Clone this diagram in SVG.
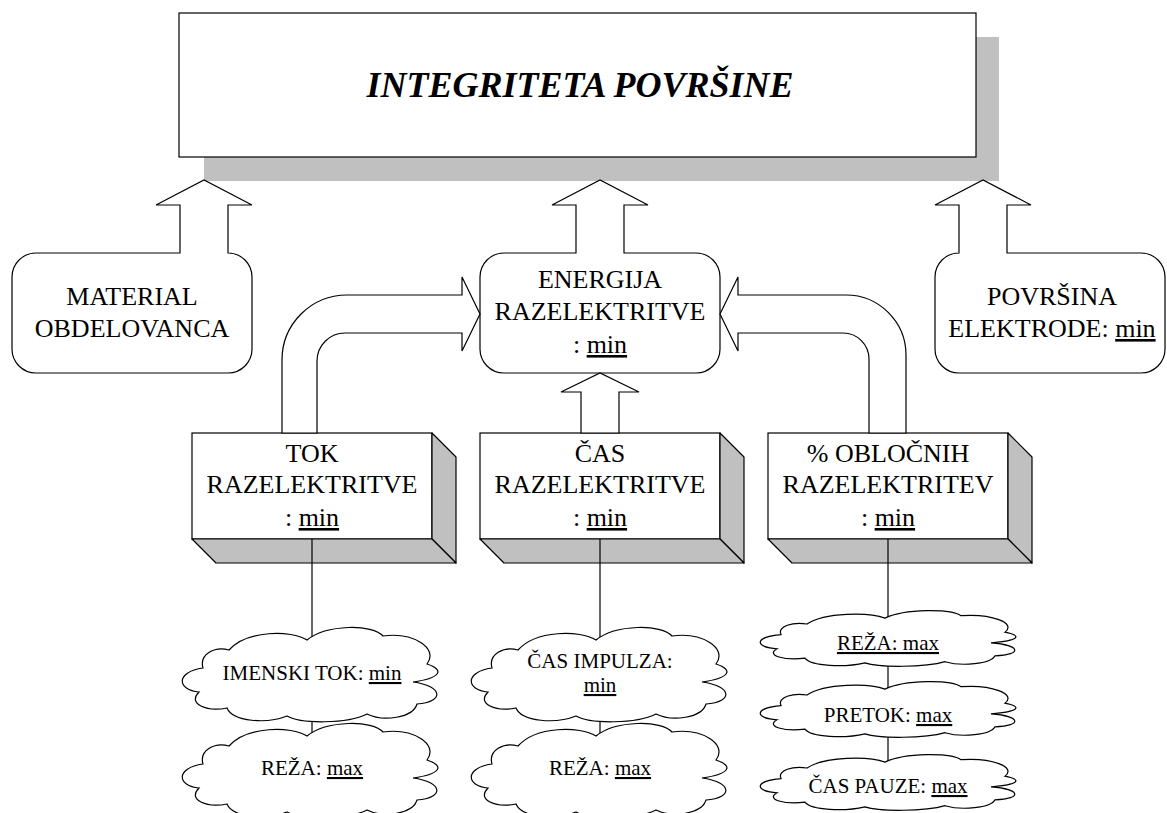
<svg xmlns="http://www.w3.org/2000/svg" width="1167" height="813" viewBox="0 0 1167 813">
<style>
.ln{fill:#fff;stroke:#000;stroke-width:1.2}
.sh{fill:#c0c0c0;stroke:#000;stroke-width:1.2;stroke-linejoin:round}
.cn{fill:none;stroke:#000;stroke-width:1.2}
.u{text-decoration:underline}
.cl{fill:#fff;stroke:#000;stroke-width:1.2}
</style>
<rect width="1167" height="813" fill="#fff"/>

<g id="title">
<rect x="204" y="37" width="795" height="144" fill="#c0c0c0"/>
<rect x="179" y="13" width="797" height="144" class="ln"/>
<text x="580" y="97" style="font-family:'Liberation Serif',Tinos,'Times New Roman',serif;font-size:36px;font-weight:bold;font-style:italic;text-anchor:middle">INTEGRITETA POVRŠINE</text>
</g>

<g id="material">
<path class="ln" d="M36,253 H180 V205 H156 L204,180 L252,205 H228 V253 A24,24 0 0 1 252,277 V349 A24,24 0 0 1 228,373 H36 A24,24 0 0 1 12,349 V277 A24,24 0 0 1 36,253 Z"/>
<text x="132" y="305" style="font-family:'Liberation Serif',Tinos,'Times New Roman',serif;font-size:26px;text-anchor:middle">MATERIAL</text>
<text x="132" y="337" style="font-family:'Liberation Serif',Tinos,'Times New Roman',serif;font-size:26px;text-anchor:middle">OBDELOVANCA</text>
</g>

<g id="energija">
<path class="ln" d="M504,253 H576 V205 H552 L600,180 L648,205 H624 V253 H696 A24,24 0 0 1 720,277 V349 A24,24 0 0 1 696,373 H504 A24,24 0 0 1 480,349 V277 A24,24 0 0 1 504,253 Z"/>
<text x="600" y="288" style="font-family:'Liberation Serif',Tinos,'Times New Roman',serif;font-size:26px;text-anchor:middle">ENERGIJA</text>
<text x="600" y="320" style="font-family:'Liberation Serif',Tinos,'Times New Roman',serif;font-size:26px;text-anchor:middle">RAZELEKTRITVE</text>
<text x="600" y="353" style="font-family:'Liberation Serif',Tinos,'Times New Roman',serif;font-size:26px;text-anchor:middle">: <tspan class="u">min</tspan></text>
</g>

<g id="povrsina">
<path class="ln" d="M959,253 V205 H935 L983,180 L1031,205 H1007 V253 H1141 A24,24 0 0 1 1165,277 V349 A24,24 0 0 1 1141,373 H959 A24,24 0 0 1 935,349 V277 A24,24 0 0 1 959,253 Z"/>
<text x="1052" y="305" style="font-family:'Liberation Serif',Tinos,'Times New Roman',serif;font-size:26px;text-anchor:middle">POVRŠINA</text>
<text x="1052" y="337" style="font-family:'Liberation Serif',Tinos,'Times New Roman',serif;font-size:26px;text-anchor:middle">ELEKTRODE: <tspan class="u">min</tspan></text>
</g>

<g id="tok">
<rect x="192" y="433" width="240" height="106" class="ln"/>
<path class="sh" d="M432,433 L456,457 V563 L432,539 Z"/>
<path class="sh" d="M192,539 H432 L456,563 H216 Z"/>
<text x="312" y="462" style="font-family:'Liberation Serif',Tinos,'Times New Roman',serif;font-size:26px;text-anchor:middle">TOK</text>
<text x="312" y="493" style="font-family:'Liberation Serif',Tinos,'Times New Roman',serif;font-size:26px;text-anchor:middle">RAZELEKTRITVE</text>
<text x="312" y="526" style="font-family:'Liberation Serif',Tinos,'Times New Roman',serif;font-size:26px;text-anchor:middle">: <tspan class="u">min</tspan></text>
</g>

<g id="cas">
<rect x="480" y="433" width="240" height="106" class="ln"/>
<path class="sh" d="M720,433 L744,457 V563 L720,539 Z"/>
<path class="sh" d="M480,539 H720 L744,563 H504 Z"/>
<text x="600" y="462" style="font-family:'Liberation Serif',Tinos,'Times New Roman',serif;font-size:26px;text-anchor:middle">ČAS</text>
<text x="600" y="493" style="font-family:'Liberation Serif',Tinos,'Times New Roman',serif;font-size:26px;text-anchor:middle">RAZELEKTRITVE</text>
<text x="600" y="526" style="font-family:'Liberation Serif',Tinos,'Times New Roman',serif;font-size:26px;text-anchor:middle">: <tspan class="u">min</tspan></text>
</g>

<g id="oblocni">
<rect x="768" y="433" width="240" height="106" class="ln"/>
<path class="sh" d="M1008,433 L1032,457 V563 L1008,539 Z"/>
<path class="sh" d="M768,539 H1008 L1032,563 H792 Z"/>
<text x="888" y="462" style="font-family:'Liberation Serif',Tinos,'Times New Roman',serif;font-size:26px;text-anchor:middle">% OBLOČNIH</text>
<text x="888" y="493" style="font-family:'Liberation Serif',Tinos,'Times New Roman',serif;font-size:26px;text-anchor:middle">RAZELEKTRITEV</text>
<text x="888" y="526" style="font-family:'Liberation Serif',Tinos,'Times New Roman',serif;font-size:26px;text-anchor:middle">: <tspan class="u">min</tspan></text>
</g>

<g id="connectors">
<path class="ln" d="M282,433 V360 A65,65 0 0 1 347,295 H462 V277 L480,314 L462,351 V333 H345 A28,28 0 0 0 317,361 V433 Z"/>
<path class="ln" d="M906,433 V355 A60,60 0 0 0 846,295 H738 V277 L720,314 L738,351 V333 H843 A26,26 0 0 1 869,359 V433 Z"/>
<path class="ln" d="M581,433 V392 H561 L600,373 L639,392 H619 V433 Z"/>
<line class="cn" x1="312" y1="539" x2="312" y2="760"/>
<line class="cn" x1="600" y1="539" x2="600" y2="760"/>
<line class="cn" x1="888" y1="539" x2="888" y2="785"/>
</g>

<g id="cloud-imenski">
<path class="cl" transform="translate(177,628)" d="M22,64 C0,62 -2,44 26,40 C22,26 38,18 52,22 C70,2 114,2 130,12 C150,-4 196,-4 206,8 C236,4 262,20 250,36 C268,42 264,50 236,54 C266,58 268,74 240,76 C236,90 206,94 190,86 C170,96 124,96 110,88 C90,96 56,94 50,80 C30,84 10,76 22,64 Z"/>
<text x="312" y="680" style="font-family:'Liberation Serif',Tinos,'Times New Roman',serif;font-size:21px;text-anchor:middle">IMENSKI TOK: <tspan class="u">min</tspan></text>
</g>
<g id="cloud-reza1">
<path class="cl" transform="translate(177,724)" d="M22,64 C0,62 -2,44 26,40 C22,26 38,18 52,22 C70,2 114,2 130,12 C150,-4 196,-4 206,8 C236,4 262,20 250,36 C268,42 264,50 236,54 C266,58 268,74 240,76 C236,90 206,94 190,86 C170,96 124,96 110,88 C90,96 56,94 50,80 C30,84 10,76 22,64 Z"/>
<text x="312" y="775" style="font-family:'Liberation Serif',Tinos,'Times New Roman',serif;font-size:21px;text-anchor:middle">REŽA: <tspan class="u">max</tspan></text>
</g>
<g id="cloud-impulz">
<path class="cl" transform="translate(466,628)" d="M22,64 C0,62 -2,44 26,40 C22,26 38,18 52,22 C70,2 114,2 130,12 C150,-4 196,-4 206,8 C236,4 262,20 250,36 C268,42 264,50 236,54 C266,58 268,74 240,76 C236,90 206,94 190,86 C170,96 124,96 110,88 C90,96 56,94 50,80 C30,84 10,76 22,64 Z"/>
<text x="600" y="668" style="font-family:'Liberation Serif',Tinos,'Times New Roman',serif;font-size:21px;text-anchor:middle">ČAS IMPULZA:</text>
<text x="600" y="692" style="font-family:'Liberation Serif',Tinos,'Times New Roman',serif;font-size:21px;text-anchor:middle"><tspan class="u">min</tspan></text>
</g>
<g id="cloud-reza2">
<path class="cl" transform="translate(466,724)" d="M22,64 C0,62 -2,44 26,40 C22,26 38,18 52,22 C70,2 114,2 130,12 C150,-4 196,-4 206,8 C236,4 262,20 250,36 C268,42 264,50 236,54 C266,58 268,74 240,76 C236,90 206,94 190,86 C170,96 124,96 110,88 C90,96 56,94 50,80 C30,84 10,76 22,64 Z"/>
<text x="600" y="775" style="font-family:'Liberation Serif',Tinos,'Times New Roman',serif;font-size:21px;text-anchor:middle">REŽA: <tspan class="u">max</tspan></text>
</g>
<g id="cloud-reza3">
<path class="cl" transform="translate(755,611)" d="M22,37.8 C0,36.6 -2,26 26,23.6 C22,15.3 38,10.6 52,13 C70,1.2 114,1.2 130,7.1 C150,-2.4 196,-2.4 206,4.7 C236,2.4 262,11.8 250,21.2 C268,24.8 264,29.5 236,31.9 C266,34.2 268,43.7 240,44.8 C236,53.1 206,55.5 190,50.7 C170,56.6 124,56.6 110,51.9 C90,56.6 56,55.5 50,47.2 C30,49.6 10,44.8 22,37.8 Z"/>
<text x="888" y="650" style="font-family:'Liberation Serif',Tinos,'Times New Roman',serif;font-size:21px;text-anchor:middle;text-decoration:underline">REŽA: max</text>
</g>
<g id="cloud-pretok">
<path class="cl" transform="translate(755,682)" d="M22,37.8 C0,36.6 -2,26 26,23.6 C22,15.3 38,10.6 52,13 C70,1.2 114,1.2 130,7.1 C150,-2.4 196,-2.4 206,4.7 C236,2.4 262,11.8 250,21.2 C268,24.8 264,29.5 236,31.9 C266,34.2 268,43.7 240,44.8 C236,53.1 206,55.5 190,50.7 C170,56.6 124,56.6 110,51.9 C90,56.6 56,55.5 50,47.2 C30,49.6 10,44.8 22,37.8 Z"/>
<text x="888" y="722" style="font-family:'Liberation Serif',Tinos,'Times New Roman',serif;font-size:21px;text-anchor:middle">PRETOK: <tspan class="u">max</tspan></text>
</g>
<g id="cloud-pavza">
<path class="cl" transform="translate(755,755)" d="M22,37.8 C0,36.6 -2,26 26,23.6 C22,15.3 38,10.6 52,13 C70,1.2 114,1.2 130,7.1 C150,-2.4 196,-2.4 206,4.7 C236,2.4 262,11.8 250,21.2 C268,24.8 264,29.5 236,31.9 C266,34.2 268,43.7 240,44.8 C236,53.1 206,55.5 190,50.7 C170,56.6 124,56.6 110,51.9 C90,56.6 56,55.5 50,47.2 C30,49.6 10,44.8 22,37.8 Z"/>
<text x="888" y="793" style="font-family:'Liberation Serif',Tinos,'Times New Roman',serif;font-size:21px;text-anchor:middle">ČAS PAUZE: <tspan class="u">max</tspan></text>
</g>
</svg>
